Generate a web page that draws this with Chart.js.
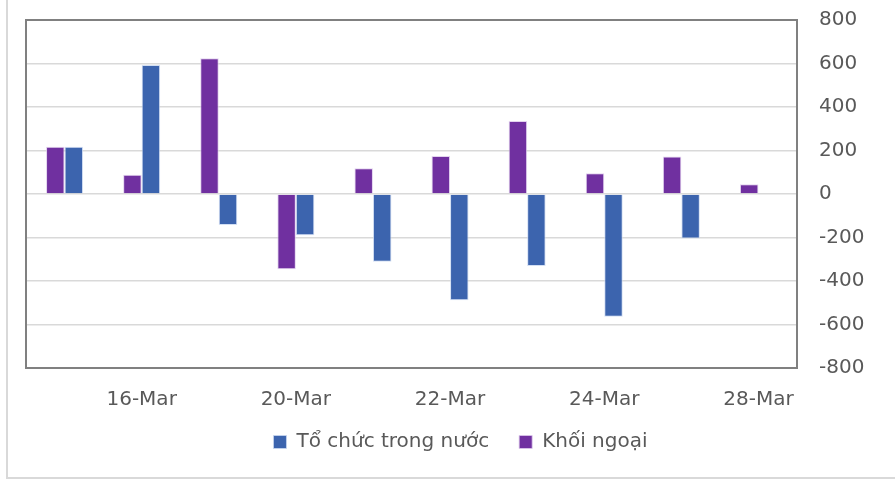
<!DOCTYPE html>
<html lang="vi">
<head>
  <meta charset="UTF-8">
  <title>Tổ chức trong nước / Khối ngoại</title>
  <script src="https://cdn.jsdelivr.net/npm/chart.js"></script>
  <style>
    body { margin: 0; background: #fff; overflow: hidden; font-family: "DejaVu Sans", sans-serif; }
    #wrap { position: relative; width: 895px; height: 482px; }
    #frame { position: absolute; left: 6px; top: -10px; right: -10px; bottom: 3px; border: 2px solid #d9d9d9; }
    #netChart { position: absolute; left: 0; top: 0; }
  </style>
</head>
<body>
  <div id="wrap">
    <div id="frame"></div>
    <canvas id="netChart" width="895" height="482"></canvas>
  </div>
  <script>
    // ngày giao dịch (chỉ hiện nhãn cách 1)
    const days = ['15-Mar', '16-Mar', '17-Mar', '20-Mar', '21-Mar', '22-Mar', '23-Mar', '24-Mar', '27-Mar', '28-Mar'];
    const khoiNgoai = [217, 89, 624, -346, 118, 175, 336, 95, 172, 45];
    const toChucTrongNuoc = [217, 593, -142, -190, -311, -489, -331, -564, -205, null];
    const yTicks = [-800, -600, -400, -200, 0, 200, 400, 600, 800];

    const textColor = '#595959';

    // khung quanh vùng vẽ + kéo chú thích lên gần trục
    const plotFrame = {
      id: 'plotFrame',
      afterLayout(chart) {
        chart.legend.top -= 16;
        chart.legend.bottom -= 16;
      },
      afterDraw(chart) {
        const { ctx, chartArea: a } = chart;
        ctx.save();
        ctx.strokeStyle = '#808080';
        ctx.lineWidth = 2;
        ctx.strokeRect(a.left, a.top, a.right - a.left, a.bottom - a.top);
        ctx.restore();
      }
    };

    const ctx = document.getElementById('netChart').getContext('2d');
    new Chart(ctx, {
      type: 'bar',
      data: {
        labels: days,
        datasets: [
          {
            label: 'Khối ngoại',
            data: khoiNgoai,
            backgroundColor: '#7030a0',
            borderColor: 'rgba(220,200,235,0.8)',
            borderWidth: 1
          },
          {
            label: 'Tổ chức trong nước',
            data: toChucTrongNuoc,
            backgroundColor: '#3c64ae',
            borderColor: 'rgba(200,215,240,0.8)',
            borderWidth: 1
          }
        ]
      },
      options: {
        responsive: false,
        animation: false,
        datasets: { bar: { barPercentage: 1, categoryPercentage: 0.48 } },
        layout: { padding: { left: 26, top: 20, right: 0, bottom: 4 } },
        plugins: {
          tooltip: { enabled: false },
          legend: {
            position: 'bottom',
            labels: {
              color: textColor,
              font: { family: 'DejaVu Sans', size: 20 },
              boxWidth: 13,
              boxHeight: 13,
              padding: 30,
              sort: (a, b) => b.datasetIndex - a.datasetIndex
            }
          }
        },
        scales: {
          x: {
            grid: { display: false, drawTicks: false },
            border: { display: false },
            afterFit(scale) {
              scale.height = 50;
              scale.paddingLeft = 0;
              scale.paddingRight = 0;
            },
            ticks: {
              color: textColor,
              font: { family: 'DejaVu Sans', size: 20 },
              padding: 20,
              autoSkip: false,
              maxRotation: 0,
              callback: function(val, i) { return i % 2 === 1 ? days[i] : ''; }
            }
          },
          y: {
            position: 'right',
            min: yTicks[0],
            max: yTicks[yTicks.length - 1],
            afterFit(scale) {
              scale.width = 98;
              scale.paddingTop = 0;
              scale.paddingBottom = 0;
            },
            afterBuildTicks(scale) { scale.ticks = yTicks.map(v => ({ value: v })); },
            grid: { color: '#d9d9d9', lineWidth: 1.5, drawTicks: false },
            border: { display: false },
            ticks: {
              color: textColor,
              font: { family: 'DejaVu Sans', size: 20 },
              padding: 22
            }
          }
        }
      },
      plugins: [plotFrame]
    });
  </script>
</body>
</html>
